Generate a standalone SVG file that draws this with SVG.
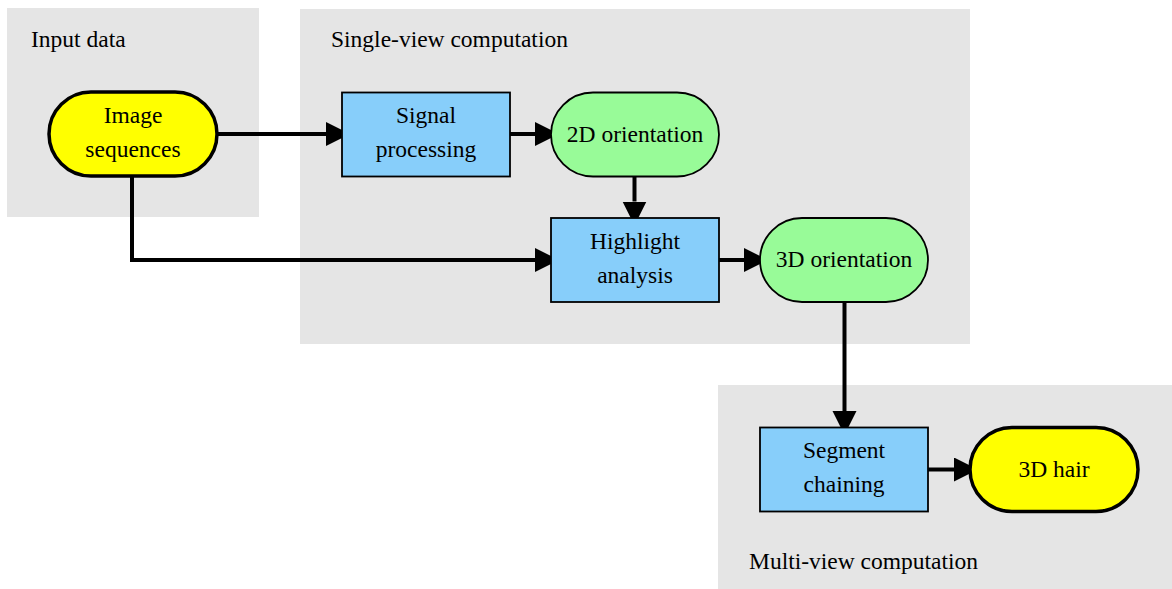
<svg xmlns="http://www.w3.org/2000/svg" width="1172" height="589" viewBox="0 0 1172 589">
<style>
.cl{fill:#e5e5e5;stroke:none}
.t{font-family:"Liberation Serif","Times New Roman",serif;font-size:23.5px;fill:#000}
.m{text-anchor:middle}
.blue{fill:#87cefa;stroke:#000;stroke-width:1.8}
.green{fill:#98fb98;stroke:#000;stroke-width:1.8}
.yel{fill:#ffff00;stroke:#000;stroke-width:3.5}
.e{fill:none;stroke:#000;stroke-width:4}
</style>
<defs>
<marker id="arr" markerUnits="userSpaceOnUse" markerWidth="25" markerHeight="25" refX="0" refY="12" orient="auto" viewBox="0 0 25 25">
<path d="M0,0 L24,12 L0,24 Z" fill="#000"/>
</marker>
</defs>
<g id="clusters">
<rect class="cl" x="7" y="8" width="252" height="209"/>
<text class="t" x="31" y="47">Input data</text>
<rect class="cl" x="300" y="9" width="670" height="335"/>
<text class="t" x="331" y="47">Single-view computation</text>
<rect class="cl" x="718" y="385" width="454" height="204"/>
<text class="t" x="749" y="569">Multi-view computation</text>
</g>
<g id="edges">
<path class="e" d="M217,134 L326,134" marker-end="url(#arr)"/>
<path class="e" d="M510,134 L535,134" marker-end="url(#arr)"/>
<path class="e" d="M634.5,177 L634.5,201.5" marker-end="url(#arr)"/>
<path class="e" d="M132,177 L132,260 L535,260" marker-end="url(#arr)"/>
<path class="e" d="M719,260 L744,260" marker-end="url(#arr)"/>
<path class="e" d="M844.5,302 L844.5,411" marker-end="url(#arr)"/>
<path class="e" d="M928,469.5 L954,469.5" marker-end="url(#arr)"/>
</g>
<g id="image_sequences">
<rect class="yel" x="49" y="92" width="168" height="84" rx="42"/>
<text class="t m" x="133" y="122.5">Image</text>
<text class="t m" x="133" y="156.5">sequences</text>
</g>
<g id="signal_processing">
<rect class="blue" x="342" y="92.5" width="168" height="84"/>
<text class="t m" x="426" y="123">Signal</text>
<text class="t m" x="426" y="157">processing</text>
</g>
<g id="orientation_2d">
<rect class="green" x="551" y="92.5" width="168" height="84" rx="42"/>
<text class="t m" x="635" y="141.5">2D orientation</text>
</g>
<g id="highlight_analysis">
<rect class="blue" x="551" y="218" width="168" height="84"/>
<text class="t m" x="635" y="248.5">Highlight</text>
<text class="t m" x="635" y="282.5">analysis</text>
</g>
<g id="orientation_3d">
<rect class="green" x="760" y="218" width="168" height="84" rx="42"/>
<text class="t m" x="844" y="266.5">3D orientation</text>
</g>
<g id="segment_chaining">
<rect class="blue" x="760" y="427.5" width="168" height="84"/>
<text class="t m" x="844" y="458">Segment</text>
<text class="t m" x="844" y="492">chaining</text>
</g>
<g id="hair_3d">
<rect class="yel" x="970" y="427.5" width="168" height="84" rx="42"/>
<text class="t m" x="1054" y="476.5">3D hair</text>
</g>
</svg>
